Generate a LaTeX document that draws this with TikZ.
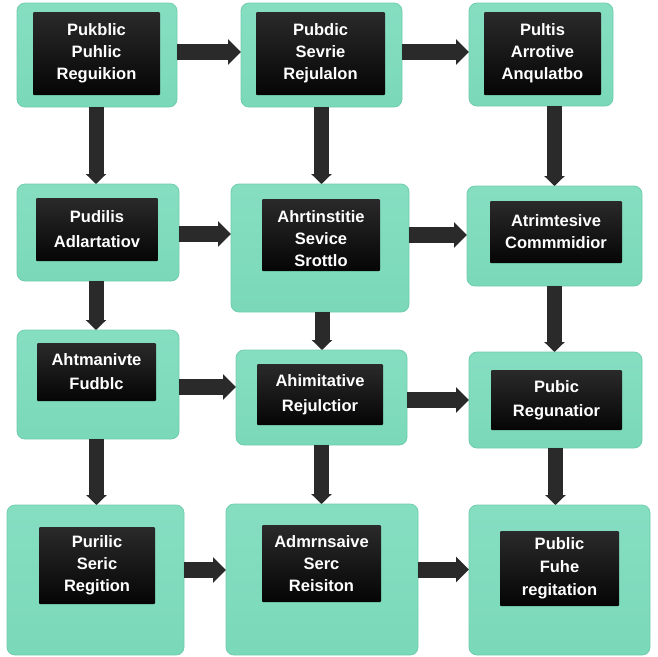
\documentclass[tikz,border=0pt]{standalone}
\usepackage{fontspec}
\setmainfont{Liberation Sans}
\usetikzlibrary{arrows.meta}
\definecolor{mintlight}{HTML}{86DEC1}
\definecolor{mintbase}{HTML}{7AD9B9}
\definecolor{mintedge}{HTML}{70CDAE}
\definecolor{screentop}{HTML}{2A2A2A}
\definecolor{screenbot}{HTML}{050505}
\definecolor{flowdark}{HTML}{2A2A2A}
\tikzset{
  panel/.style={rectangle,rounded corners=8pt,draw=mintedge,line width=0.8pt,
    top color=mintlight,bottom color=mintbase,inner sep=0pt,outer sep=0pt},
  screen/.style={rectangle,rounded corners=1pt,top color=screentop,bottom color=screenbot,
    text=white,font=\fontsize{16.5}{22}\selectfont\bfseries,align=center,inner sep=0pt},
  flow/.style={draw=flowdark,line width=16pt,-{Triangle[length=13pt,width=25pt]}},
  flowdown/.style={draw=flowdark,line width=15pt,-{Triangle[length=10pt,width=20pt]}}
}
\begin{document}
\begin{tikzpicture}[x=1pt,y=-1pt]
    \useasboundingbox (0,0) rectangle (657,657);

    \node[panel,minimum width=160pt,minimum height=104pt](boxa) at (97,55){};
    \node[panel,minimum width=161pt,minimum height=104pt](boxb) at (321.5,55){};
    \node[panel,minimum width=144pt,minimum height=103pt](boxc) at (541,54.5){};
    \node[panel,minimum width=162pt,minimum height=97pt](boxd) at (98,232.5){};
    \node[panel,minimum width=178pt,minimum height=128pt](boxe) at (320,248){};
    \node[panel,minimum width=175pt,minimum height=100pt](boxf) at (554.5,236){};
    \node[panel,minimum width=162pt,minimum height=109pt](boxg) at (98,384.5){};
    \node[panel,minimum width=171pt,minimum height=95pt](boxh) at (321.5,397.5){};
    \node[panel,minimum width=173pt,minimum height=96pt](boxi) at (555.5,400){};
    \node[panel,minimum width=177pt,minimum height=150pt](boxj) at (95.5,580){};
    \node[panel,minimum width=192pt,minimum height=151pt](boxk) at (322,579.5){};
    \node[panel,minimum width=181pt,minimum height=150pt](boxl) at (559.5,580){};

    \node[screen,minimum width=127pt,minimum height=83pt](scra) at (96.5,53.5){Pukblic\\Puhlic\\Reguikion};
    \node[screen,minimum width=129pt,minimum height=83pt](scrb) at (320.5,53.5){Pubdic\\Sevrie\\Rejulalon};
    \node[screen,minimum width=117pt,minimum height=83pt](scrc) at (542.5,53.5){Pultis\\Arrotive\\Anqulatbo};
    \node[screen,minimum width=122pt,minimum height=63pt](scrd) at (97,229.5){Pudilis\\[3pt]Adlartatiov};
    \node[screen,minimum width=118pt,minimum height=72pt](scre) at (321,235){\rule{0pt}{20pt}Ahrtinstitie\\Sevice\\Srottlo};
    \node[screen,minimum width=132pt,minimum height=62pt](scrf) at (556,232){Atrimtesive\\Commmidior};
    \node[screen,minimum width=119pt,minimum height=58pt](scrg) at (96.5,372){Ahtmanivte\\[2pt]Fudblc};
    \node[screen,minimum width=126pt,minimum height=61pt](scrh) at (320,394.5){Ahimitative\\[3pt]Rejulctior};
    \node[screen,minimum width=131pt,minimum height=60pt](scri) at (556.5,400){Pubic\\[2pt]Regunatior};
    \node[screen,minimum width=116pt,minimum height=77pt](scrj) at (97,565.5){Purilic\\Seric\\Regition};
    \node[screen,minimum width=119pt,minimum height=77pt](scrk) at (321.5,563.5){Admrnsaive\\Serc\\Reisiton};
    \node[screen,minimum width=119pt,minimum height=75pt](scrl) at (559.5,568.5){Public\\[1pt]Fuhe\\[1pt]regitation};

    % across
    \draw[flow]([yshift=3pt]boxa.east)--([yshift=3pt]boxa.east -| boxb.west);
    \draw[flow]([yshift=3pt]boxb.east)--([yshift=3pt]boxb.east -| boxc.west);
    \draw[flow]([yshift=-1.5pt]boxd.east)--([yshift=-1.5pt]boxd.east -| boxe.west);
    \draw[flow]([yshift=13pt]boxe.east)--([yshift=13pt]boxe.east -| boxf.west);
    \draw[flow]([yshift=-2.5pt]boxg.east)--([yshift=-2.5pt]boxg.east -| boxh.west);
    \draw[flow]([yshift=-2.5pt]boxh.east)--([yshift=-2.5pt]boxh.east -| boxi.west);
    \draw[flow]([yshift=10pt]boxj.east)--([yshift=10pt]boxj.east -| boxk.west);
    \draw[flow]([yshift=10pt]boxk.east)--([yshift=10pt]boxk.east -| boxl.west);

    % down
    \draw[flowdown]([xshift=-1pt]boxa.south)--([xshift=-1pt]boxa.south |- boxd.north);
    \draw[flowdown]([xshift=-2pt]boxd.south)--([xshift=-2pt]boxd.south |- boxg.north);
    \draw[flowdown]([xshift=-1.5pt]boxg.south)--([xshift=-1.5pt]boxg.south |- boxj.north);
    \draw[flowdown](boxb.south)--(boxb.south |- boxe.north);
    \draw[flowdown]([xshift=2pt]boxe.south)--([xshift=2pt]boxe.south |- boxh.north);
    \draw[flowdown](boxh.south)--(boxh.south |- boxk.north);
    \draw[flowdown](boxc.south -| boxf.north)--(boxf.north);
    \draw[flowdown](boxf.south)--(boxf.south |- boxi.north);
    \draw[flowdown](boxi.south)--(boxi.south |- boxl.north);
\end{tikzpicture}
\end{document}
